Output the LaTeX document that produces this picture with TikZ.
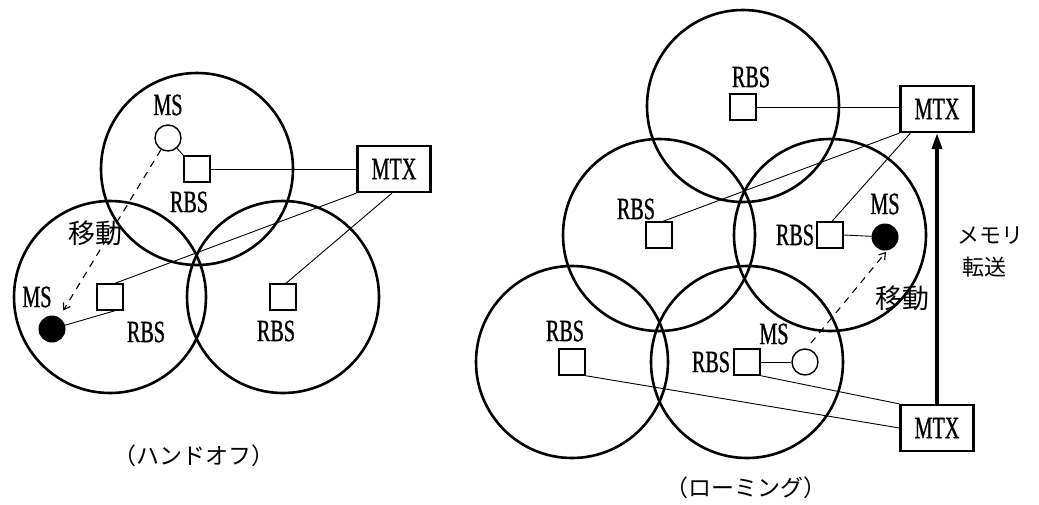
\documentclass[tikz,border=0pt]{standalone}
\usepackage{fontspec}
\newfontfamily\latn[FakeStretch=0.65,FakeBold=0.8]{Liberation Serif}
\newfontfamily\jpn{Noto Sans CJK JP}
\usetikzlibrary{arrows.meta,calc}
\tikzset{
  cell/.style={circle,draw,line width=2.6pt,minimum size=192pt,inner sep=0pt},
  rbs/.style={draw,line width=1.4pt,minimum size=26pt,inner sep=0pt},
  mobile/.style={circle,draw,line width=1.4pt,minimum size=26pt,inner sep=0pt},
  mobileon/.style={circle,fill,minimum size=27pt,inner sep=0pt},
  mtx/.style={draw,line width=2.2pt,minimum width=73pt,minimum height=46pt,inner sep=0pt,
    font=\latn\fontsize{31}{34}\selectfont},
  lbl/.style={inner sep=0pt,font=\latn\fontsize{31}{34}\selectfont},
  jlbl/.style={inner sep=0pt,font=\jpn\fontsize{27}{30}\selectfont},
  jsmall/.style={inner sep=0pt,font=\jpn\fontsize{22}{26}\selectfont},
  caption/.style={inner sep=0pt,font=\jpn\fontsize{23}{26}\selectfont},
  link/.style={line width=0.9pt},
  move/.style={line width=1.1pt,dash pattern=on 7pt off 6pt,-{Straight Barb[length=6pt,width=8pt]}},
  transfer/.style={line width=3.5pt,-{Triangle[length=16pt,width=10pt]}}
}
\begin{document}
\begin{tikzpicture}[x=1pt,y=-1pt]
\useasboundingbox (0,0) rectangle (1039,504);

% ---------- handoff ----------
\node[cell] (a1) at (197,169) {};
\node[cell] (a2) at (110,297) {};
\node[cell] (a3) at (283,297) {};

\node[rbs] (ra1) at (197,169) {};
\node[rbs] (ra2) at (110,297) {};
\node[rbs] (ra3) at (283,297) {};
\node[mtx] (ma) at (394,169) {MTX};

\node[mobile] (msa) at (168,138) {};
\node[mobileon] (msb) at (52,329) {};

\node[lbl] (la1) at (168,105) {MS};
\node[lbl] (la2) at (189,202) {RBS};
\node[lbl] (la3) at (37,297) {MS};
\node[lbl] (la4) at (146,332) {RBS};
\node[lbl] (la5) at (276,331) {RBS};
\node[jlbl] (ja1) at (95,233) {移動};
\node[caption] (cap1) at (194,456) {（ハンドオフ）};

\draw[link] (msa) -- (ra1.north west);
\draw[link] (ra1.east) -- (ra1.east -| ma.west);
\draw[link] ([xshift=5pt]ra2.north) -- (ma.south west);
\draw[link] ([xshift=5pt]ra2.south) -- (msb);
\draw[link] ([xshift=3pt]ra3.north) -- ([xshift=-2pt]ma.south);
\draw[move, shorten >=8pt] (msa) -- (msb);

% ---------- roaming ----------
\node[cell] (b1) at (743,106) {};
\node[cell] (b2) at (659,235) {};
\node[cell] (b3) at (830,235) {};
\node[cell] (b4) at (572,362) {};
\node[cell] (b5) at (747,362) {};

\node[rbs] (rb1) at (743,107) {};
\node[rbs] (rb2) at (659,235) {};
\node[rbs] (rb3) at (830,235) {};
\node[rbs] (rb4) at (572,362) {};
\node[rbs] (rb5) at (747,362) {};
\node[mtx] (mt) at (937,109) {MTX};
\node[mtx] (mb) at (937,428) {MTX};

\node[mobileon] (msc) at (885,237) {};
\node[mobile] (msd) at (805,362) {};

\node[lbl] (lb1) at (751,77) {RBS};
\node[lbl] (lb2) at (636,209) {RBS};
\node[lbl] (lb3) at (795,235) {RBS};
\node[lbl] (lb4) at (885,204) {MS};
\node[lbl] (lb5) at (565,331) {RBS};
\node[lbl] (lb6) at (711,362) {RBS};
\node[lbl] (lb7) at (774,334) {MS};
\node[jlbl] (jb1) at (902,298) {移動};
\node[jsmall] (jb2) at (990,236) {メモリ};
\node[jsmall] (jb3) at (984,267) {転送};
\node[caption] (cap2) at (746,488) {（ローミング）};

\draw[link] (rb1.east) -- (rb1.east -| mt.west);
\draw[link] ([xshift=4pt]rb2.north) -- (mt.south west);
\draw[link] ([xshift=2pt]rb3.north) -- ([xshift=11pt]mt.south west);
\draw[link] (rb3.east) -- (msc);
\draw[link] (rb4.south east) -- (mb.west);
\draw[link] (rb5.south east) -- (mb.north west);
\draw[link] (rb5.east) -- (msd);

\coordinate (mvs) at (811,343);
\coordinate (mve) at (886,252);
\draw[move] (mvs) -- (mve);
\draw[transfer] (mb.north) -- (mt.south);
\end{tikzpicture}
\end{document}
